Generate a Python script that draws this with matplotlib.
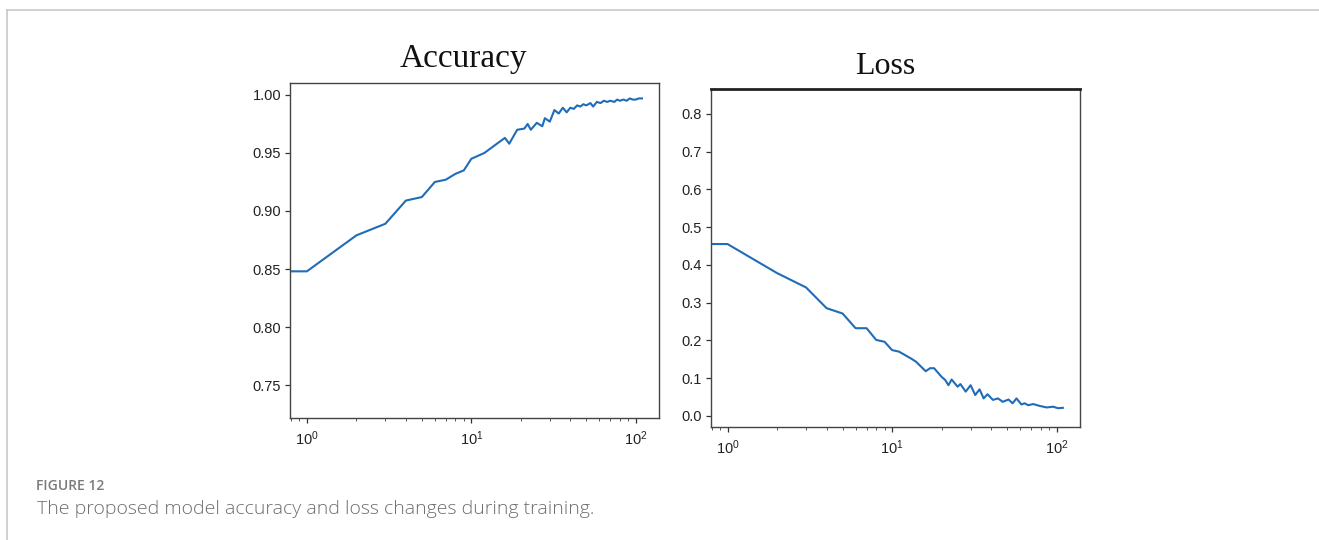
import matplotlib
matplotlib.use("Agg")
import matplotlib.pyplot as plt
from matplotlib.lines import Line2D

# accuracy per epoch (epoch 0 sits at the left edge on the log axis)
acc_epochs = [0, 1, 2, 3, 4, 5, 6, 7, 8, 9, 10, 12, 14, 16, 17, 19, 21, 22, 23, 25,
              27, 28, 30, 32, 34, 36, 38, 40, 42, 44, 46, 48, 50, 53, 55, 58, 61, 64,
              67, 70, 74, 77, 80, 84, 88, 92, 96, 100, 104, 109]
acc_values = [0.848, 0.848, 0.879, 0.889, 0.909, 0.912, 0.925, 0.927, 0.932, 0.935,
              0.945, 0.950, 0.957, 0.963, 0.958, 0.970, 0.971, 0.975, 0.970, 0.976,
              0.973, 0.980, 0.977, 0.987, 0.984, 0.989, 0.985, 0.989, 0.988, 0.991,
              0.990, 0.992, 0.991, 0.993, 0.990, 0.994, 0.993, 0.995, 0.994, 0.995,
              0.994, 0.996, 0.995, 0.996, 0.995, 0.997, 0.996, 0.996, 0.997, 0.997]

# loss per epoch
loss_epochs = [0, 1, 2, 3, 4, 5, 6, 7, 8, 9, 10, 11, 13, 14, 16, 17, 18, 20, 21, 22,
               23, 25, 26, 28, 30, 32, 34, 36, 38, 41, 44, 47, 51, 54, 57, 61, 64,
               67, 72, 79, 87, 95, 102, 109]
loss_values = [0.455, 0.455, 0.378, 0.340, 0.285, 0.271, 0.232, 0.232, 0.201, 0.196,
               0.174, 0.170, 0.152, 0.143, 0.118, 0.126, 0.126, 0.103, 0.095, 0.081,
               0.096, 0.077, 0.084, 0.064, 0.081, 0.055, 0.070, 0.046, 0.057, 0.042,
               0.046, 0.037, 0.043, 0.033, 0.046, 0.030, 0.033, 0.028, 0.031, 0.026,
               0.022, 0.024, 0.020, 0.021]

acc_yticks = [0.75, 0.80, 0.85, 0.90, 0.95, 1.00]
loss_yticks = [0.0, 0.1, 0.2, 0.3, 0.4, 0.5, 0.6, 0.7, 0.8]

line_color = "#1f6cb8"
tick_font = "Liberation Sans"
plt.rcParams["mathtext.fontset"] = "custom"
plt.rcParams["mathtext.rm"] = "Liberation Sans"
plt.rcParams["mathtext.it"] = "Liberation Sans"

fig = plt.figure(figsize=(13.19, 5.4), dpi=100)

ax1 = fig.add_axes([0.2199, 0.2259, 0.2798, 0.6204])
ax2 = fig.add_axes([0.5388, 0.2098, 0.2800, 0.6248])

for ax, xs, ys, ticks, fmt, ylim in [
        (ax1, acc_epochs, acc_values, acc_yticks, "{:.2f}", (0.7216, 1.0103)),
        (ax2, loss_epochs, loss_values, loss_yticks, "{:.1f}", (-0.029, 0.865))]:
    ax.set_xscale("log")
    ax.plot(xs, ys, color=line_color, lw=1.5)
    ax.set_xlim(0.79, 138.6)
    ax.set_ylim(*ylim)
    ax.set_yticks(ticks)
    ax.set_yticklabels([fmt.format(t) for t in ticks])
    ax.tick_params(axis="both", which="major", length=3.5, width=0.9,
                   labelsize=10.5, colors="#333333", labelcolor="#222222", pad=3)
    ax.tick_params(axis="x", which="minor", length=2, width=0.7, colors="#555555")
    ax.tick_params(axis="x", which="major", pad=5)
    for lab in ax.get_yticklabels() + ax.get_xticklabels():
        lab.set_family(tick_font)
    for s in ax.spines.values():
        s.set_color("#444444")
        s.set_linewidth(1.0)

ax2.spines["top"].set_linewidth(2.0)
ax2.spines["top"].set_color("#222222")

fig.text(463 / 1319, 1 - 67 / 540, "Accuracy", family="Liberation Serif",
         fontsize=24, ha="center", va="baseline", color="#111111")
fig.text(885 / 1319, 1 - 74 / 540, "Loss", family="Liberation Serif",
         fontsize=23, ha="center", va="baseline", color="#111111")

# page frame lines
fig.add_artist(Line2D([6.5 / 1319, 1.0], [1 - 9.5 / 540, 1 - 9.5 / 540],
                      transform=fig.transFigure, color="#c8c8c8", lw=1.2))
fig.add_artist(Line2D([6.5 / 1319, 6.5 / 1319], [1 - 9.5 / 540, 0.0],
                      transform=fig.transFigure, color="#c8c8c8", lw=1.2))

fig.text(36 / 1319, 1 - 490 / 540, "FIGURE 12", family="Open Sans", fontweight="semibold",
         fontsize=10, color="#7a7a7a", va="baseline")
fig.text(37 / 1319, 1 - 514 / 540,
         "The proposed model accuracy and loss changes during training.",
         family="Open Sans", fontweight="light", fontsize=14, color="#6e6e6e",
         va="baseline")

fig.savefig("out.png", dpi=100, facecolor="white")
